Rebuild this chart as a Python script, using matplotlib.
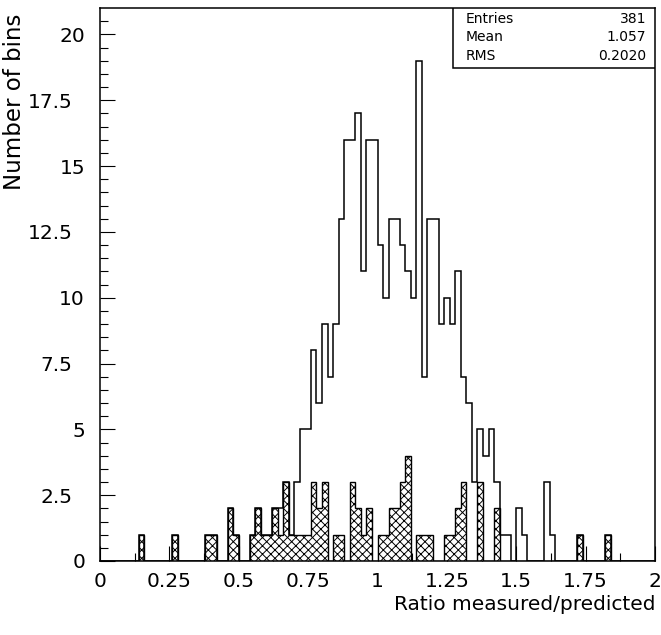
import numpy as np
import matplotlib
matplotlib.use('Agg')
import matplotlib.pyplot as plt
from matplotlib.patches import Rectangle

# 100 bins between 0 and 2
edges = np.linspace(0, 2, 101)

# all entries
counts_all = [0, 0, 0, 0, 0, 0, 0, 1, 0, 0,
              0, 0, 0, 1, 0, 0, 0, 0, 0, 1,
              1, 0, 0, 2, 1, 0, 0, 1, 2, 1,
              1, 2, 2, 3, 1, 3, 5, 5, 8, 6,
              9, 7, 9, 13, 16, 16, 17, 11, 16, 16,
              12, 10, 13, 13, 12, 11, 10, 19, 7, 13,
              13, 9, 10, 9, 11, 7, 6, 3, 5, 4,
              5, 3, 1, 1, 0, 2, 1, 0, 0, 0,
              3, 1, 0, 0, 0, 0, 1, 0, 0, 0,
              0, 1, 0, 0, 0, 0, 0, 0, 0, 0]

# hatched subset
counts_sub = [0, 0, 0, 0, 0, 0, 0, 1, 0, 0,
              0, 0, 0, 1, 0, 0, 0, 0, 0, 1,
              1, 0, 0, 2, 1, 0, 0, 1, 2, 1,
              1, 2, 1, 3, 1, 1, 1, 1, 3, 2,
              3, 0, 1, 1, 0, 3, 2, 1, 2, 0,
              1, 1, 2, 2, 3, 4, 0, 1, 1, 1,
              0, 0, 1, 1, 2, 3, 0, 0, 3, 0,
              0, 2, 0, 0, 0, 0, 0, 0, 0, 0,
              0, 0, 0, 0, 0, 0, 1, 0, 0, 0,
              0, 1, 0, 0, 0, 0, 0, 0, 0, 0]

stat_names = ['Entries', 'Mean', 'RMS']
stat_values = ['381', '1.057', '0.2020']

xticks = [0, 0.25, 0.5, 0.75, 1, 1.25, 1.5, 1.75, 2]
xticklabels = ['0', '0.25', '0.5', '0.75', '1', '1.25', '1.5', '1.75', '2']
yticks = [0, 2.5, 5, 7.5, 10, 12.5, 15, 17.5, 20]
yticklabels = ['0', '2.5', '5', '7.5', '10', '12.5', '15', '17.5', '20']

plt.rcParams['font.family'] = ['DejaVu Sans']
plt.rcParams['hatch.linewidth'] = 0.7

fig = plt.figure(figsize=(6.61, 6.35), dpi=100)
ax = fig.add_axes([100 / 661, 74 / 635, 555 / 661, 553 / 635])

ax.stairs(counts_sub, edges, fill=True, facecolor='white', edgecolor='black',
          hatch='xxxx', linewidth=1.0, zorder=2)
ax.stairs(counts_all, edges, color='black', linewidth=1.1, zorder=3)

ax.set_xlim(0, 2)
ax.set_ylim(0, 21)
ax.set_axisbelow(True)

ax.set_xticks(xticks)
ax.set_xticklabels(xticklabels)
ax.set_xticks(np.arange(0.125, 2, 0.25), minor=True)
ax.set_yticks(yticks)
ax.set_yticklabels(yticklabels)
ax.set_yticks(np.arange(0, 21, 0.5), minor=True)

ax.tick_params(which='both', direction='in', top=False, right=False,
               width=0.8, labelsize=14.5)
ax.tick_params(which='major', length=11, pad=8)
ax.tick_params(which='minor', length=5.5)
# PAW style: decimal labels sit further left than integer ones
for tick, lab in zip(ax.yaxis.get_major_ticks(), yticklabels):
    tick.set_pad(20 if '.' in lab else 10.8)
for sp in ax.spines.values():
    sp.set_linewidth(1.1)

ax.set_ylabel('Number of bins', fontsize=16.5, loc='top')
ax.yaxis.set_label_coords(-0.133, 0.99)
ax.set_xlabel('Ratio measured/predicted', fontsize=14.5, loc='right', labelpad=3)

# statistics box
ax.add_patch(Rectangle((0.636, 0.8915), 0.364, 0.1085, transform=ax.transAxes,
                       facecolor='white', edgecolor='black', linewidth=1.1, zorder=5))
rows_y = [0.980, 0.9476, 0.9132]
for name, val, yy in zip(stat_names, stat_values, rows_y):
    ax.text(0.658, yy, name, transform=ax.transAxes, fontsize=10,
            ha='left', va='center', zorder=6)
    ax.text(0.984, yy, val, transform=ax.transAxes, fontsize=10,
            ha='right', va='center', zorder=6)

fig.savefig('out.png', dpi=100)
